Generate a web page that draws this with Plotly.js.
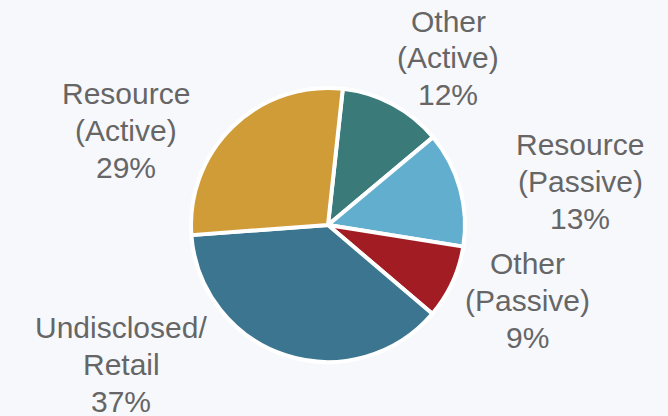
<!DOCTYPE html>
<html>
<head>
<meta charset="utf-8">
<script src="https://cdn.plot.ly/plotly-3.0.1.min.js"></script>
<style>
html,body{margin:0;padding:0;background:#f7f8fc;}
#chart{width:668px;height:416px;}
</style>
</head>
<body>
<div id="chart"></div>
<script>
// Data
const categories = ["Other (Active)", "Resource (Passive)", "Other (Passive)", "Undisclosed/Retail", "Resource (Active)"];
const labelLines = [["Other", "(Active)"], ["Resource", "(Passive)"], ["Other", "(Passive)"], ["Undisclosed/", "Retail"], ["Resource", "(Active)"]];
// percentages printed on the labels
const labelPercents = [12, 13, 9, 37, 29];
// slice sizes as drawn in the picture (share of the full circle, %)
const sliceShares = [12.2, 13.6, 8.7, 37.6, 27.9];
const colors = ["#3a7a79", "#62aecf", "#a11c23", "#3b758f", "#d09c37"];

// Label placement (pixels in the 668x416 frame), styling only
const W = 668, H = 416;
const labelPos = [[448, 58], [580, 181], [527, 300], [121, 364], [126, 130]];
const lineGap = 37;

const annotations = [];
categories.forEach((c, i) => {
  const lines = labelLines[i].concat([labelPercents[i] + "%"]);
  lines.forEach((t, k) => {
    annotations.push({
      xref: "paper", yref: "paper",
      x: labelPos[i][0] / W, y: 1 - (labelPos[i][1] + (k - 1) * lineGap) / H,
      xanchor: "center", yanchor: "middle",
      text: t,
      showarrow: false,
      font: {family: "Liberation Sans, Arial, sans-serif", size: 30, color: "#666666"}
    });
  });
});

const cx = 328, cy = 225, r = 137;
const trace = {
  type: "pie",
  labels: categories,
  values: sliceShares,
  sort: false,
  direction: "clockwise",
  rotation: 6.2,
  marker: {colors: colors, line: {color: "#ffffff", width: 4}},
  textinfo: "none",
  hoverinfo: "label",
  domain: {x: [(cx - r) / W, (cx + r) / W], y: [1 - (cy + r) / H, 1 - (cy - r) / H]},
  showlegend: false
};

Plotly.newPlot("chart", [trace], {
  width: W, height: H,
  margin: {l: 0, r: 0, t: 0, b: 0},
  paper_bgcolor: "#f7f8fc",
  plot_bgcolor: "#f7f8fc",
  annotations: annotations,
  showlegend: false
}, {displayModeBar: false, staticPlot: true});
</script>
</body>
</html>
